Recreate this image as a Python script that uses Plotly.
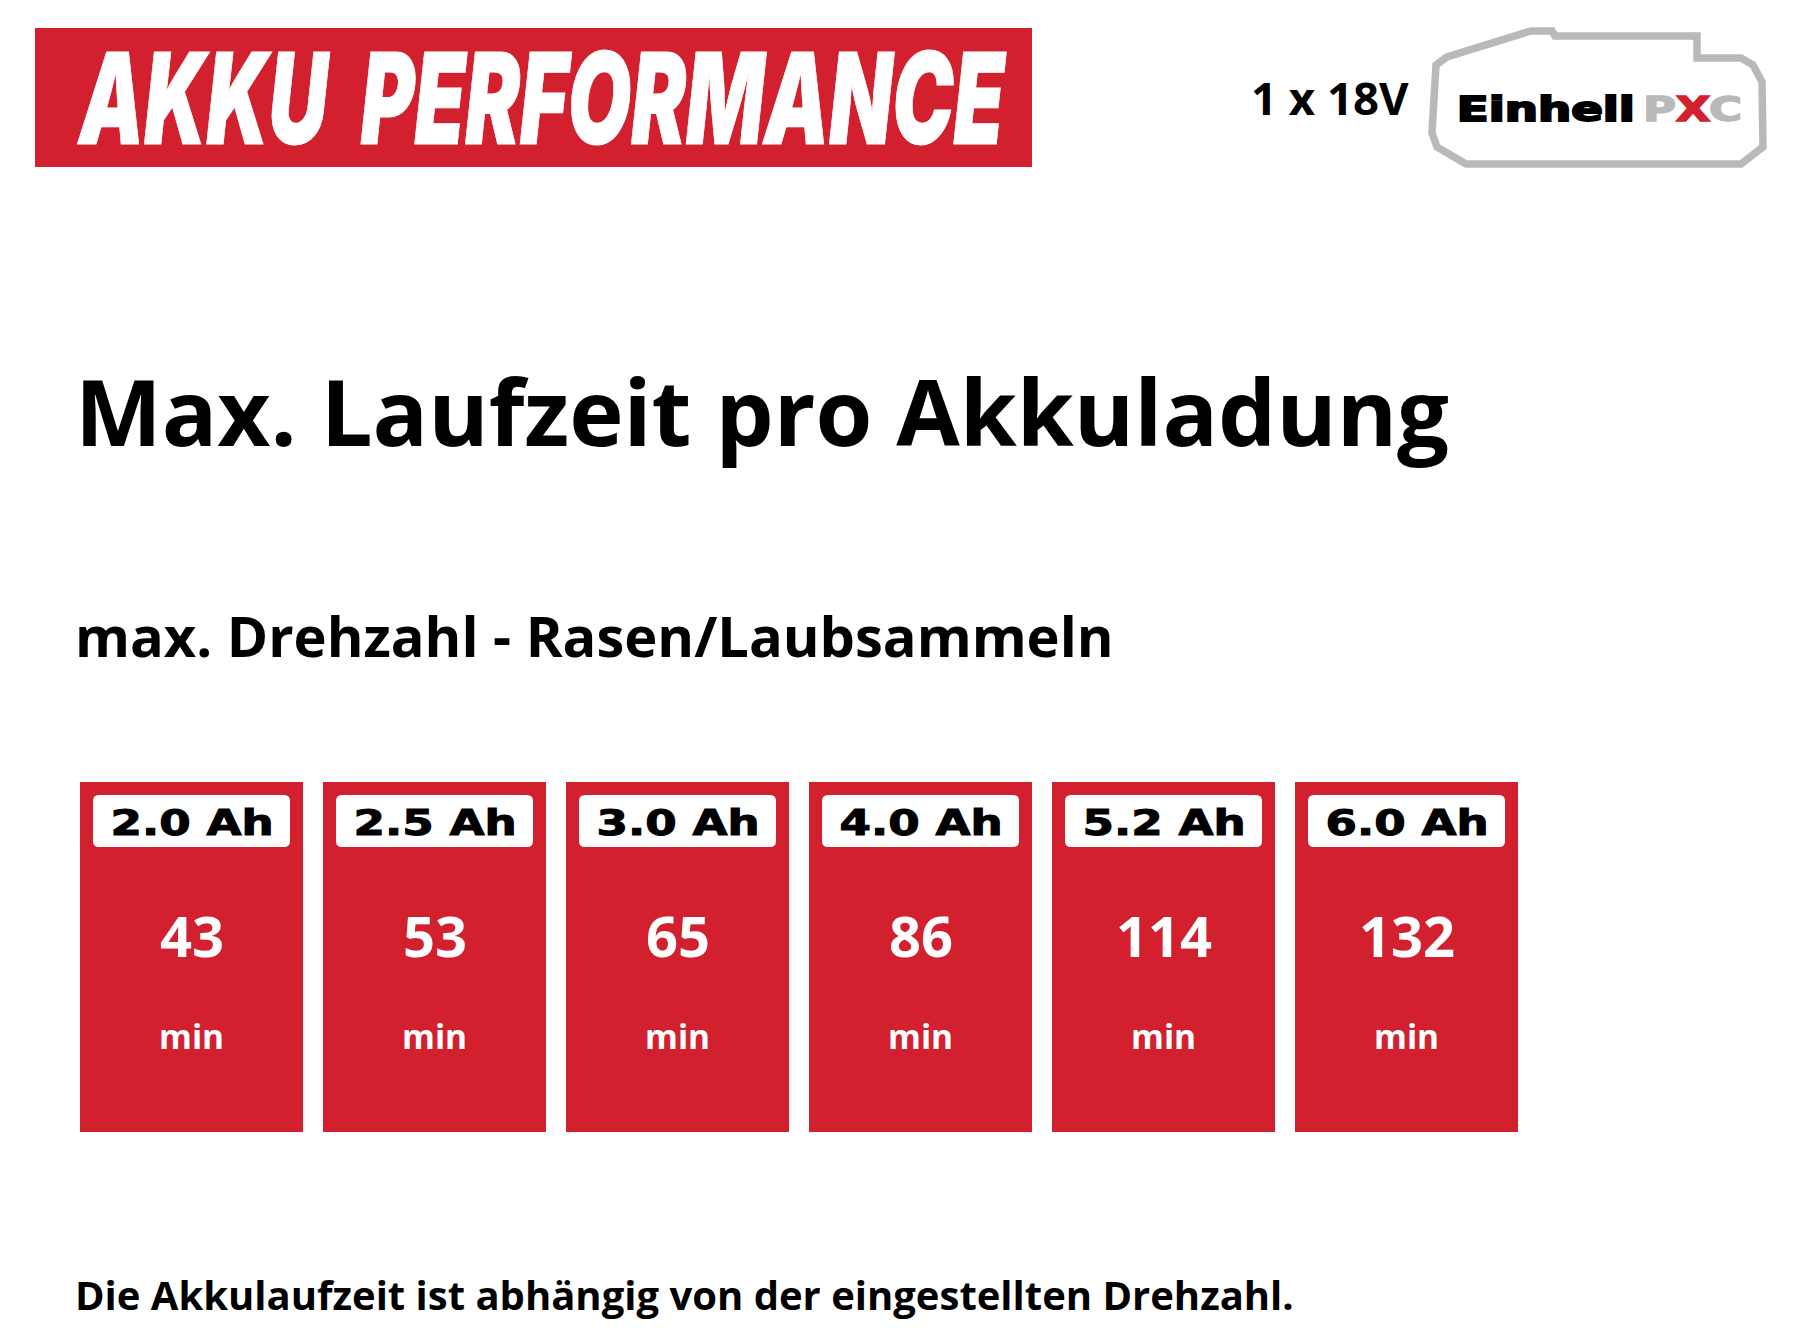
import json
import plotly.graph_objects as go

W = 1801
H = 1344

capacities = ['2.0 Ah', '2.5 Ah', '3.0 Ah', '4.0 Ah', '5.2 Ah', '6.0 Ah']
runtimes = [43, 53, 65, 86, 114, 132]
unit = 'min'

banner_text = 'AKKU PERFORMANCE'
voltage_text = '1 x 18V'
title_text = 'Max. Laufzeit pro Akkuladung'
subtitle_text = 'max. Drehzahl - Rasen/Laubsammeln'
footer_text = 'Die Akkulaufzeit ist abhängig von der eingestellten Drehzahl.'

RED = '#D2202F'
GREY = '#B9B9B9'
FONT = 'Open Sans'

# card row in pixels
PITCH = 243
CARD_W = 223
CARD_LEFT = 80
CARD_TOP = 782
CARD_BOTTOM = 1132


def px_x(x):
    return x / W


def px_y(y):
    return 1 - y / H


def rounded_rect(x0, y0, x1, y1, r):
    return (f'M {px_x(x0 + r)} {px_y(y0)} L {px_x(x1 - r)} {px_y(y0)} '
            f'Q {px_x(x1)} {px_y(y0)} {px_x(x1)} {px_y(y0 + r)} '
            f'L {px_x(x1)} {px_y(y1 - r)} Q {px_x(x1)} {px_y(y1)} {px_x(x1 - r)} {px_y(y1)} '
            f'L {px_x(x0 + r)} {px_y(y1)} Q {px_x(x0)} {px_y(y1)} {px_x(x0)} {px_y(y1 - r)} '
            f'L {px_x(x0)} {px_y(y0 + r)} Q {px_x(x0)} {px_y(y0)} {px_x(x0 + r)} {px_y(y0)} Z')


def add_text(fig, text, x, y, size, color='#000000', weight=700, family=FONT, xanchor='left', style='normal',
             xref='paper'):
    fig.add_annotation(text=text, x=x if xref != 'paper' else px_x(x), y=px_y(y), xref=xref, yref='paper',
                       xanchor=xanchor, yanchor='middle', showarrow=False, borderpad=0, borderwidth=0,
                       font=dict(family=family, size=size, color=color, weight=weight, style=style))


fig = go.Figure()

# the cards, one per battery capacity
axis_left = CARD_LEFT - (PITCH - CARD_W) / 2
fig.add_bar(x=capacities, y=[1] * len(capacities), marker=dict(color=RED, line_width=0), hoverinfo='skip',
            customdata=runtimes)
fig.update_xaxes(domain=[px_x(axis_left), px_x(axis_left + PITCH * len(capacities))], range=[-0.5, 5.5],
                 visible=False, type='category')
fig.update_yaxes(domain=[px_y(CARD_BOTTOM), px_y(CARD_TOP)], range=[0, 1], visible=False)

# banner
fig.add_shape(type='rect', xref='paper', yref='paper', x0=px_x(35), x1=px_x(1032), y0=px_y(167), y1=px_y(28),
              fillcolor=RED, line_width=0)
add_text(fig, banner_text, 542, 98, 127, color='#FFFFFF', family='Inter', weight=900, xanchor='center',
         style='italic')

# battery outline and logo
outline = [(1531, 31), (1552, 31), (1555, 36), (1697, 36), (1697, 58), (1741, 58), (1753, 65), (1762, 82),
           (1763, 147), (1741, 164), (1466, 164), (1437, 147), (1432, 133), (1436, 65), (1447, 57)]
path = 'M ' + ' L '.join(f'{px_x(a)} {px_y(b)}' for a, b in outline) + ' Z'
fig.add_shape(type='path', xref='paper', yref='paper', path=path, line=dict(color=GREY, width=7.5))
add_text(fig, voltage_text, 1251, 97, 45.5)
add_text(fig, 'Einhell', 1546, 109, 34, family='DejaVu Sans', xanchor='center')
add_text(fig, f'<span style="color:{GREY}">P</span><span style="color:{RED}">X</span>'
              f'<span style="color:{GREY}">C</span>', 1692, 109, 34, family='DejaVu Sans', xanchor='center')

# headings
add_text(fig, title_text, 74.5, 410, 92)
add_text(fig, subtitle_text, 74.5, 635, 56)
add_text(fig, footer_text, 74.5, 1294, 40)

# badge, value and unit on each card
for i, cap in enumerate(capacities):
    left = CARD_LEFT + i * PITCH
    fig.add_shape(type='path', xref='paper', yref='paper', fillcolor='#FFFFFF', line_width=0,
                  path=rounded_rect(left + 13, 795, left + 210, 847, 6))
    add_text(fig, cap, cap, 823, 35, family='DejaVu Sans', xanchor='center', xref='x')
    add_text(fig, str(runtimes[i]), cap, 935, 56, color='#FFFFFF', xanchor='center', xref='x')
    add_text(fig, unit, cap, 1036, 33.5, color='#FFFFFF', xanchor='center', xref='x')

fig.update_layout(width=W, height=H, margin=dict(l=0, r=0, t=0, b=0, pad=0), paper_bgcolor='white',
                  plot_bgcolor='white', bargap=(PITCH - CARD_W) / PITCH, showlegend=False)

# the banner, logo and badge lettering are condensed or extended faces, so the glyphs are fitted to their widths
# width, stroke, word gap
fitted = {banner_text: (925, 1, 26), 'Einhell': (178, 2, 0), 'PXC': (99, 1.5, 0)}
fitted.update({cap: (163, 1, 0) for cap in capacities})
post_script = """
document.body.style.margin = '0';
var fitted = %s;
document.querySelectorAll('.annotation-text').forEach(function (t) {
  var fit = fitted[t.textContent];
  if (!fit) return;
  t.style.wordSpacing = fit[2] + 'px';
  t.setAttribute('textLength', fit[0]);
  t.setAttribute('lengthAdjust', 'spacingAndGlyphs');
  [t].concat(Array.from(t.querySelectorAll('tspan'))).forEach(function (part) {
    part.style.stroke = getComputedStyle(part).fill;
    part.style.strokeWidth = fit[1] + 'px';
  });
});
""" % json.dumps(fitted)

fig.write_html("out.html", post_script=post_script, config={'displayModeBar': False})
